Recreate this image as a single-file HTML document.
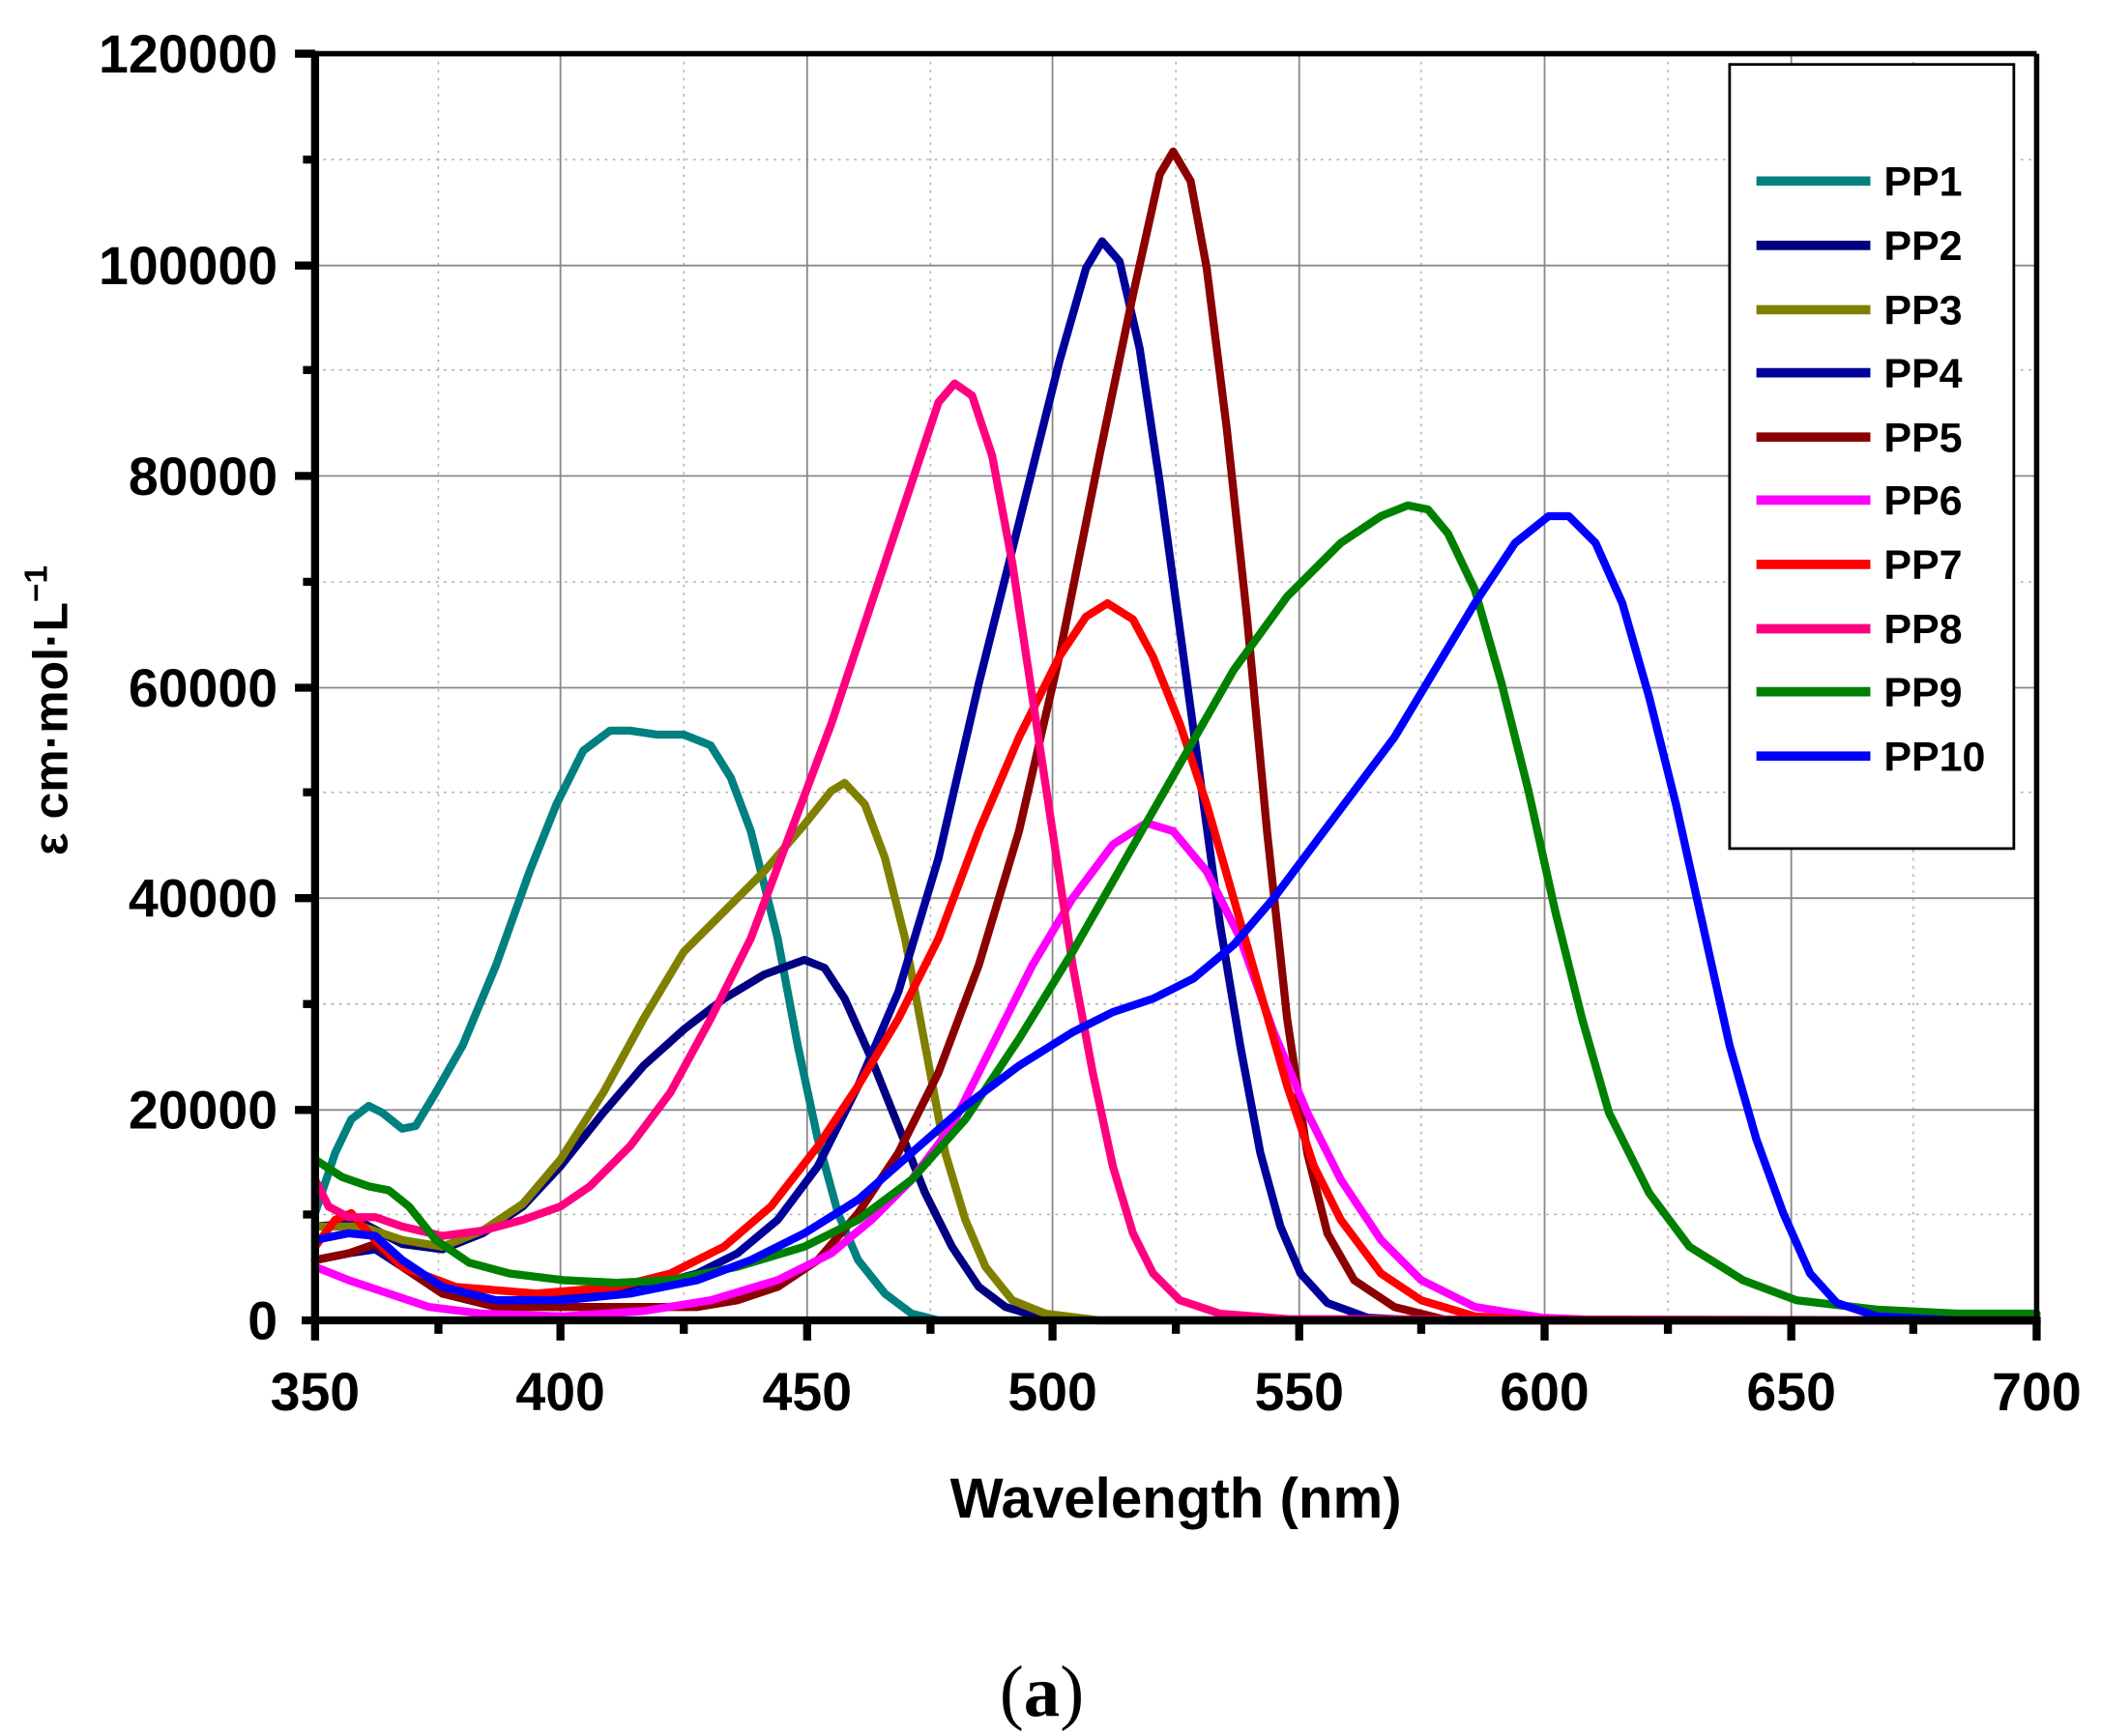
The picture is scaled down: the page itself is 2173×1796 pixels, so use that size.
<!DOCTYPE html>
<html><head><meta charset="utf-8"><style>html,body{margin:0;padding:0;background:#fff}svg{display:block}</style></head>
<body>
<svg width="2173" height="1796" viewBox="0 0 1567 1295" xmlns="http://www.w3.org/2000/svg" font-family="Liberation Sans, Arial, sans-serif">
<rect width="1567" height="1295" fill="#fff"/>
<g stroke="#aaa" stroke-width="1" stroke-dasharray="2,4">
<line x1="327" y1="40" x2="327" y2="985"/><line x1="510" y1="40" x2="510" y2="985"/><line x1="694" y1="40" x2="694" y2="985"/><line x1="877" y1="40" x2="877" y2="985"/><line x1="1060" y1="40" x2="1060" y2="985"/><line x1="1244" y1="40" x2="1244" y2="985"/><line x1="1427" y1="40" x2="1427" y2="985"/>
<line x1="235" y1="906" x2="1519" y2="906"/><line x1="235" y1="749" x2="1519" y2="749"/><line x1="235" y1="591" x2="1519" y2="591"/><line x1="235" y1="434" x2="1519" y2="434"/><line x1="235" y1="276" x2="1519" y2="276"/><line x1="235" y1="119" x2="1519" y2="119"/>
</g>
<g stroke="#888" stroke-width="1.3">
<line x1="418" y1="40" x2="418" y2="985"/><line x1="602" y1="40" x2="602" y2="985"/><line x1="785" y1="40" x2="785" y2="985"/><line x1="969" y1="40" x2="969" y2="985"/><line x1="1152" y1="40" x2="1152" y2="985"/><line x1="1336" y1="40" x2="1336" y2="985"/>
<line x1="235" y1="828" x2="1519" y2="828"/><line x1="235" y1="670" x2="1519" y2="670"/><line x1="235" y1="513" x2="1519" y2="513"/><line x1="235" y1="355" x2="1519" y2="355"/><line x1="235" y1="198" x2="1519" y2="198"/>
</g>
<g fill="none" stroke-width="6" stroke-linejoin="round" stroke-linecap="round">
<polyline stroke="#008080" points="235,905 250,860 262,835 275,825 285,830 300,842 310,840 325,815 345,780 370,720 395,650 415,600 435,560 455,545 470,545 490,548 510,548 530,556 545,580 560,620 580,700 595,780 610,850 625,905 640,940 660,965 680,980 700,985 1519,985"/>
<polyline stroke="#000080" points="235,915 270,912 300,928 330,932 360,920 390,900 418,870 450,830 480,795 510,768 540,745 570,727 600,716 615,722 630,745 650,790 670,840 690,890 710,930 730,960 750,975 780,984 820,985 1519,985"/>
<polyline stroke="#808000" points="235,915 270,915 300,925 330,930 360,918 390,898 418,865 450,815 480,760 510,710 540,680 570,650 600,615 620,590 630,584 645,600 660,640 675,700 690,780 705,860 720,910 735,945 755,970 780,980 820,985 1519,985"/>
<polyline stroke="#00009a" points="235,940 260,935 280,932 300,945 330,965 360,970 400,970 450,965 490,958 520,950 550,935 580,910 610,870 640,810 670,740 700,640 730,510 760,390 790,270 810,200 822,180 835,195 850,260 865,360 880,470 895,580 910,690 925,780 940,860 955,915 970,950 990,972 1020,983 1060,985 1519,985"/>
<polyline stroke="#8b0000" points="235,940 260,935 280,928 300,945 330,965 370,975 420,975 480,975 520,975 550,970 580,960 610,940 640,905 670,860 700,800 730,720 760,620 790,490 820,340 845,220 865,130 875,113 888,135 900,200 915,320 930,460 945,620 960,760 975,860 990,920 1010,955 1040,975 1080,985 1519,985"/>
<polyline stroke="#ff00ff" points="235,945 260,955 290,965 320,975 360,980 420,982 480,978 530,970 580,955 620,935 650,910 680,880 710,840 740,780 770,720 800,670 830,630 855,614 875,620 900,650 925,700 950,770 975,830 1000,880 1030,925 1060,955 1100,975 1150,983 1200,985 1519,985"/>
<polyline stroke="#ff0000" points="235,930 250,910 262,905 275,920 300,945 340,960 400,965 460,960 500,950 540,930 575,900 610,855 640,810 670,760 700,700 730,620 760,550 790,490 810,460 826,450 845,462 860,490 880,540 900,600 920,670 940,740 960,810 980,870 1000,910 1030,950 1060,970 1100,982 1150,985 1519,985"/>
<polyline stroke="#ff0080" points="235,880 245,900 260,908 280,908 300,915 330,922 360,918 390,910 418,900 440,885 470,855 500,815 530,760 560,700 590,620 620,540 650,450 680,360 700,300 712,286 725,295 740,340 755,420 770,520 785,620 800,720 815,800 830,870 845,920 860,950 880,970 910,980 960,984 1519,985"/>
<polyline stroke="#008000" points="235,865 255,878 275,885 290,888 305,900 325,925 350,942 380,950 420,955 460,957 500,955 550,945 600,930 640,910 680,880 720,835 760,775 800,710 840,640 880,570 920,500 960,445 1000,405 1030,385 1050,377 1065,380 1080,398 1100,440 1120,510 1140,590 1160,680 1180,760 1200,830 1230,890 1260,930 1300,955 1340,970 1400,977 1460,980 1519,980"/>
<polyline stroke="#0000ff" points="235,925 260,920 280,922 300,940 330,960 370,970 420,970 470,965 520,955 560,940 600,920 640,895 680,860 720,825 760,795 800,770 830,755 860,745 890,730 920,705 950,670 980,630 1010,590 1040,550 1070,500 1100,450 1130,405 1155,385 1170,385 1190,405 1210,450 1230,520 1250,600 1270,690 1290,780 1310,850 1330,905 1350,950 1370,972 1400,982 1460,985 1519,985"/>
</g>
<g stroke="#000">
<line x1="235" y1="40" x2="1519" y2="40" stroke-width="4"/>
<line x1="1519" y1="40" x2="1519" y2="985" stroke-width="4"/>
<line x1="225" y1="985" x2="1522" y2="985" stroke-width="6"/>
<line x1="235" y1="38" x2="235" y2="988" stroke-width="6"/>
<g stroke-width="6">
<line x1="235" y1="985" x2="235" y2="1000"/><line x1="418" y1="985" x2="418" y2="1000"/><line x1="602" y1="985" x2="602" y2="1000"/><line x1="785" y1="985" x2="785" y2="1000"/><line x1="969" y1="985" x2="969" y2="1000"/><line x1="1152" y1="985" x2="1152" y2="1000"/><line x1="1336" y1="985" x2="1336" y2="1000"/><line x1="1519" y1="985" x2="1519" y2="1000"/>
<line x1="327" y1="985" x2="327" y2="995"/><line x1="510" y1="985" x2="510" y2="995"/><line x1="694" y1="985" x2="694" y2="995"/><line x1="877" y1="985" x2="877" y2="995"/><line x1="1060" y1="985" x2="1060" y2="995"/><line x1="1244" y1="985" x2="1244" y2="995"/><line x1="1427" y1="985" x2="1427" y2="995"/>
<line x1="220" y1="40" x2="235" y2="40"/><line x1="220" y1="198" x2="235" y2="198"/><line x1="220" y1="355" x2="235" y2="355"/><line x1="220" y1="513" x2="235" y2="513"/><line x1="220" y1="670" x2="235" y2="670"/><line x1="220" y1="828" x2="235" y2="828"/>
<line x1="226" y1="119" x2="235" y2="119"/><line x1="226" y1="276" x2="235" y2="276"/><line x1="226" y1="434" x2="235" y2="434"/><line x1="226" y1="591" x2="235" y2="591"/><line x1="226" y1="749" x2="235" y2="749"/><line x1="226" y1="906" x2="235" y2="906"/>
</g>
</g>
<g font-size="40" font-weight="bold" text-anchor="end" fill="#000">
<text x="207" y="54">120000</text><text x="207" y="212">100000</text><text x="207" y="369">80000</text><text x="207" y="527">60000</text><text x="207" y="684">40000</text><text x="207" y="842">20000</text><text x="207" y="999">0</text>
</g>
<g font-size="40" font-weight="bold" text-anchor="middle" fill="#000">
<text x="235" y="1052">350</text><text x="418" y="1052">400</text><text x="602" y="1052">450</text><text x="785" y="1052">500</text><text x="969" y="1052">550</text><text x="1152" y="1052">600</text><text x="1336" y="1052">650</text><text x="1519" y="1052">700</text>
</g>
<text x="877" y="1132" font-size="42" font-weight="bold" text-anchor="middle">Wavelength (nm)</text>
<text transform="translate(50,530) rotate(-90)" font-size="36" font-weight="bold" text-anchor="middle">ε  cm·mol·L<tspan dy="-15" font-size="24">−1</tspan></text>
<text x="777" y="1280" font-size="54" text-anchor="middle" font-family="Liberation Serif, serif">(<tspan font-weight="bold">a</tspan>)</text>
<rect x="1290" y="48" width="212" height="585" fill="#fff" stroke="#000" stroke-width="2"/>
<g stroke-width="7">
<line x1="1310" y1="135" x2="1395" y2="135" stroke="#008080"/>
<line x1="1310" y1="183" x2="1395" y2="183" stroke="#000080"/>
<line x1="1310" y1="231" x2="1395" y2="231" stroke="#808000"/>
<line x1="1310" y1="278" x2="1395" y2="278" stroke="#00009a"/>
<line x1="1310" y1="326" x2="1395" y2="326" stroke="#8b0000"/>
<line x1="1310" y1="373" x2="1395" y2="373" stroke="#ff00ff"/>
<line x1="1310" y1="421" x2="1395" y2="421" stroke="#ff0000"/>
<line x1="1310" y1="469" x2="1395" y2="469" stroke="#ff0080"/>
<line x1="1310" y1="516" x2="1395" y2="516" stroke="#008000"/>
<line x1="1310" y1="564" x2="1395" y2="564" stroke="#0000ff"/>
</g>
<g font-size="31" font-weight="bold" fill="#000">
<text x="1405" y="146">PP1</text><text x="1405" y="194">PP2</text><text x="1405" y="242">PP3</text><text x="1405" y="289">PP4</text><text x="1405" y="337">PP5</text><text x="1405" y="384">PP6</text><text x="1405" y="432">PP7</text><text x="1405" y="480">PP8</text><text x="1405" y="527">PP9</text><text x="1405" y="575">PP10</text>
</g>
</svg>
</body></html>
